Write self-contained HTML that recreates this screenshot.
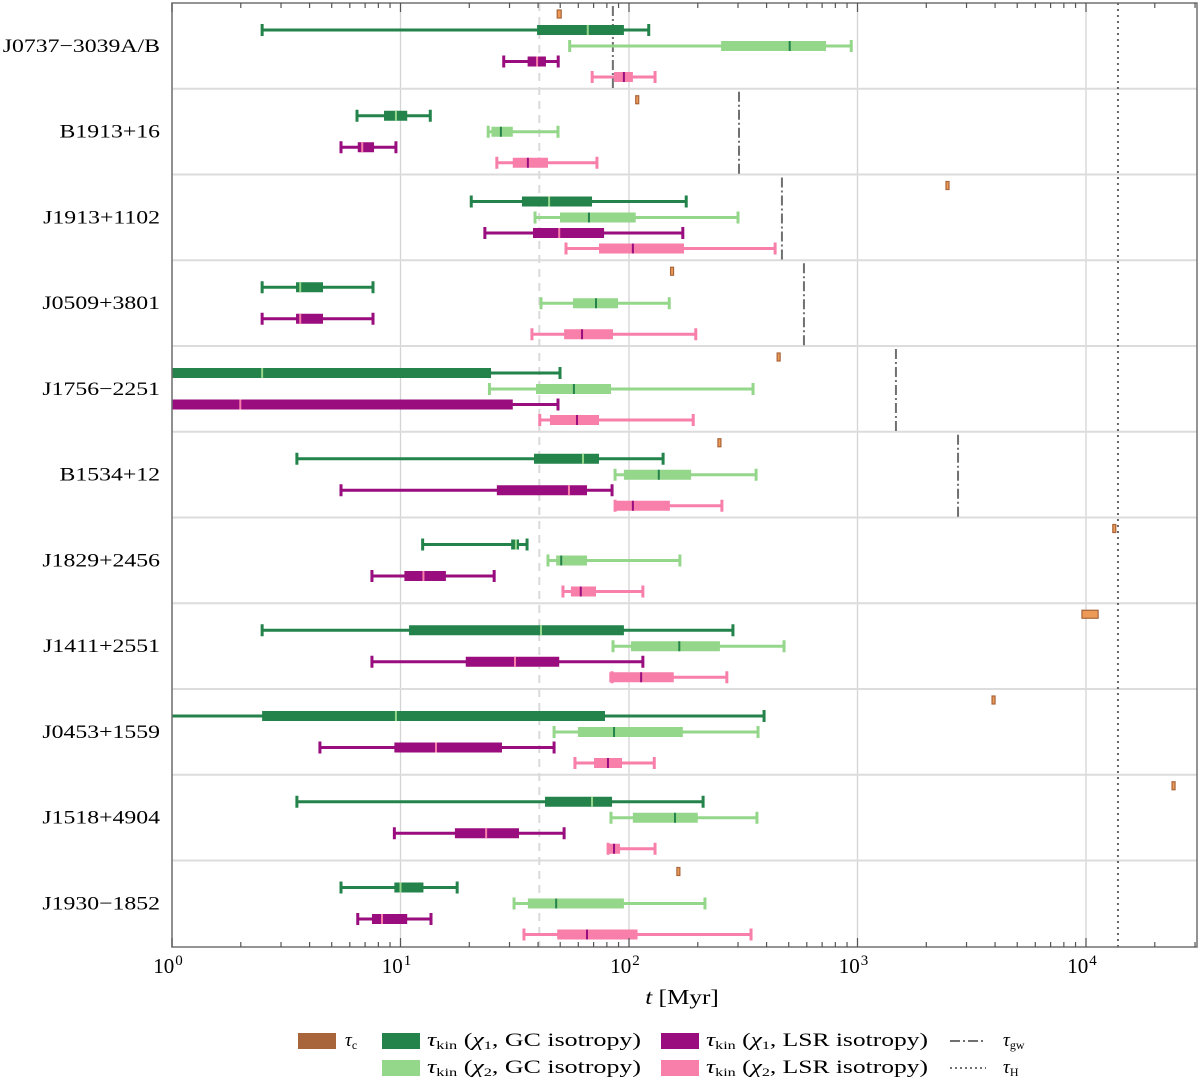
<!DOCTYPE html>
<html><head><meta charset="utf-8">
<style>
html,body{margin:0;padding:0;background:#fff;}
svg{display:block;font-family:"Liberation Serif",serif;}
</style></head>
<body>
<svg id="chart" width="1200" height="1081" viewBox="0 0 1200 1081" xmlns="http://www.w3.org/2000/svg">
  <defs><clipPath id="plotclip"><rect x="172" y="3" width="1025" height="944"/></clipPath></defs>
  <g id="grid"></g>
  <g id="marks" clip-path="url(#plotclip)"></g>
  <rect x="172" y="3" width="1025" height="944" fill="none" stroke="#707070" stroke-width="1.5"/>
  <g id="axes"></g>
  <text id="xtitle" x="682" y="1004" font-size="21" text-anchor="middle"><tspan font-style="italic">t</tspan>  [Myr]</text>
  <g id="legend" font-size="19"></g>
</svg>
<script>
const names = ["J0737\u22123039A/B","B1913+16","J1913+1102","J0509+3801","J1756\u22122251","B1534+12","J1829+2456","J1411+2551","J0453+1559","J1518+4904","J1930\u22121852"];
const tauC = [49.4,108,2465,154,449,248,13270,10500,3917,24040,164];
const tauCLo = [48.5,107,2440,152,445,245,13100,9600,3880,23800,162];
const tauCHi = [50.5,109,2490,156,453,251,13450,11300,3950,24300,166];
const tauGW = [85,303,467,583,1473,2754,null,null,null,null,null];
const tauH = 13800;
const refLine = 40.5;
// [lo, q1, median, q3, hi]
const gc1 = [[2.48,39.6,66,95,122],[6.45,8.47,9.55,10.7,13.5],[20.4,34,44.7,68.9,178],[2.48,3.49,3.64,4.58,7.58],[0.3,0.5,2.48,24.9,49.9],[3.52,38.4,62.9,73.9,141],[12.5,30.5,32,33,35.8],[2.48,10.9,41.2,95,285],[0.7,2.48,9.55,78.5,390],[3.52,42.9,68.9,84.3,211],[5.49,9.4,10,12.6,17.7]];
const gc2 = [[55,253,505,728,939],[24.2,25,27.5,31,48.9],[38.8,49.9,66.8,107,300],[41.2,56.9,71.7,89.5,150],[24.5,39.2,57.4,83.4,349],[86.9,95,135,187,360],[44.2,48,50.5,65.5,167],[85.1,102,166,250,477],[47,59.8,86,172,367],[83.4,104,159,200,363],[31.4,36.1,48,95,215]];
const lsr1 = [[28.3,36,39.6,43.3,49],[5.49,6.5,6.8,7.66,9.55],[23.4,38,49.5,77.8,172],[2.48,3.49,3.64,4.58,7.58],[0.3,0.5,1.99,31,48.9],[5.49,26.4,54.6,65.5,84.3],[7.5,10.4,12.6,15.8,25.7],[7.5,19.3,31.7,49.5,115],[4.44,9.4,14.3,27.8,47],[9.4,17.3,23.7,33,52],[6.5,7.5,8.3,10.7,13.6]];
const lsr2 = [[69,86,95,104,130],[26.4,31,36.1,44.2,72.4],[53,73.9,104,174,436],[37.6,52,62.3,85.1,196],[40.7,45.1,59.2,73.9,191],[86.9,86.9,104,151,255],[51.4,55.7,61.5,71.7,115],[84.3,82,113,157,268],[58,70.3,80.9,93.2,129],[81,82,86,91.4,130],[34.7,48.5,65.5,109,342]];
const xTicks = [1,10,100,1000,10000];
const xTickExp = ["0","1","2","3","4"];

const NS="http://www.w3.org/2000/svg";
const X0=172, X1=1197, DEC=228.5, Y0=3, ROWH=85.75;
function xs(v){return X0+DEC*Math.log10(v);}
function rowTop(i){return Y0+i*ROWH;}
function mk(tag,attrs,parent){const e=document.createElementNS(NS,tag);for(const k in attrs)e.setAttribute(k,attrs[k]);parent.appendChild(e);return e;}
function stretch(t,f){const l=t.getComputedTextLength();t.setAttribute('textLength',(l*f).toFixed(1));t.setAttribute('lengthAdjust','spacingAndGlyphs');}
const grid=document.getElementById('grid'), marks=document.getElementById('marks'), axes=document.getElementById('axes'), legend=document.getElementById('legend');

xTicks.forEach((t,i)=>{
  const l=mk('line',{x1:xs(t),x2:xs(t),y1:Y0,y2:947,stroke:'#d4d4d4','stroke-width':1.3},grid);
  
  
});
for(let i=1;i<names.length;i++){
  const l=mk('line',{x1:X0,x2:X1,y1:rowTop(i),y2:rowTop(i),stroke:'#dcdcdc','stroke-width':2},grid);
  
  
}
const rl=mk('line',{x1:xs(refLine),x2:xs(refLine),y1:Y0,y2:947,stroke:'#dadada','stroke-width':2,'stroke-dasharray':'8,6'},marks);


const th=mk('line',{x1:xs(tauH),x2:xs(tauH),y1:Y0,y2:947,stroke:'#666','stroke-width':2,'stroke-dasharray':'2,4'},marks);



function boxplot(d,yc,col,medCol,name){
  const g=mk('g',{},marks);
  
  
  const [lo,q1,md,q3,hi]=d;
  mk('line',{x1:xs(lo),x2:xs(hi),y1:yc,y2:yc,stroke:col,'stroke-width':3},g);
  mk('line',{x1:xs(lo),x2:xs(lo),y1:yc-6,y2:yc+6,stroke:col,'stroke-width':3},g);
  mk('line',{x1:xs(hi),x2:xs(hi),y1:yc-6,y2:yc+6,stroke:col,'stroke-width':3},g);
  mk('rect',{x:xs(q1),y:yc-5,width:Math.max(xs(q3)-xs(q1),1),height:10,fill:col},g);
  mk('line',{x1:xs(md),x2:xs(md),y1:yc-5,y2:yc+5,stroke:medCol,'stroke-width':2},g);
}
const DG='#23834a', LG='#94d68a', PU='#990d7e', PK='#f77faa', BR='#a8643a';
names.forEach((n,i)=>{
  const t=rowTop(i);
  const lab=mk('text',{x:160,y:t+ROWH/2+6,'text-anchor':'end','font-size':19},axes);
  lab.textContent=n;
  
  
  stretch(lab,1.25);
  const c=mk('rect',{x:xs(tauCLo[i]),y:t+7,width:Math.max(xs(tauCHi[i])-xs(tauCLo[i]),3),height:8,fill:'#ec9a55',stroke:BR,'stroke-width':1.2},marks);
  
  
  if(tauGW[i]!==null){
    const gw=mk('line',{x1:xs(tauGW[i]),x2:xs(tauGW[i]),y1:t+3,y2:t+ROWH,stroke:'#707070','stroke-width':2,'stroke-dasharray':'10,3,2,3'},marks);
    
    
  }
  boxplot(gc1[i],t+27,DG,LG,'gc-chi1-bar');
  boxplot(gc2[i],t+43,LG,DG,'gc-chi2-bar');
  boxplot(lsr1[i],t+58.5,PU,PK,'lsr-chi1-bar');
  boxplot(lsr2[i],t+74,PK,PU,'lsr-chi2-bar');
});
for(let e=0;e<5;e++){
  for(let m=1;m<10;m++){
    const v=Math.pow(10,e)*m; const x=xs(v); if(x>X1) break;
    const len=m===1?9:5;
    mk('line',{x1:x,x2:x,y1:947,y2:947-len,stroke:'#555','stroke-width':1.2},axes);
    mk('line',{x1:x,x2:x,y1:3,y2:3+len,stroke:'#555','stroke-width':1.2},axes);
  }
}
xTicks.forEach((t,i)=>{
  const tx=mk('text',{x:xs(t)-4,y:973,'text-anchor':'middle','font-size':21},axes);
  tx.textContent='10';
  
  
  const sp=mk('tspan',{dx:1,dy:-8,'font-size':15},tx);
  sp.textContent=xTickExp[i];
});
stretch(document.getElementById('xtitle'),1.2);
function legText(x,y,parts,w){
  const t=mk('text',{x:x,y:y},legend);
  
  
  parts.forEach(p=>{const s=mk('tspan',p[1]||{},t);s.textContent=p[0];});
  if(w){t.setAttribute('textLength',w);t.setAttribute('lengthAdjust','spacingAndGlyphs');}
  return t;
}
function sw(x,y,col,name){
  const r=mk('rect',{x:x,y:y-8,width:38,height:16,fill:col},legend);
  
  
}
const ly1=1041, ly2=1068;
sw(298,ly1,BR,'legend-swatch-tau-c');
legText(345,ly1+5,[['\u03c4',{'font-style':'italic'}],['c',{'font-size':12,dy:3}]]);
sw(382,ly1,DG,'legend-swatch-gc-chi1');
legText(427,ly1+5,[['\u03c4',{'font-style':'italic'}],['kin',{'font-size':12,dy:3}],[' (',{dy:-3}],['\u03c7',{'font-style':'italic'}],['1',{'font-size':12,dy:3}],[', GC isotropy)',{dy:-3}]],214);
sw(382,ly2,LG,'legend-swatch-gc-chi2');
legText(427,ly2+5,[['\u03c4',{'font-style':'italic'}],['kin',{'font-size':12,dy:3}],[' (',{dy:-3}],['\u03c7',{'font-style':'italic'}],['2',{'font-size':12,dy:3}],[', GC isotropy)',{dy:-3}]],214);
sw(661,ly1,PU,'legend-swatch-lsr-chi1');
legText(706,ly1+5,[['\u03c4',{'font-style':'italic'}],['kin',{'font-size':12,dy:3}],[' (',{dy:-3}],['\u03c7',{'font-style':'italic'}],['1',{'font-size':12,dy:3}],[', LSR isotropy)',{dy:-3}]],222);
sw(661,ly2,PK,'legend-swatch-lsr-chi2');
legText(706,ly2+5,[['\u03c4',{'font-style':'italic'}],['kin',{'font-size':12,dy:3}],[' (',{dy:-3}],['\u03c7',{'font-style':'italic'}],['2',{'font-size':12,dy:3}],[', LSR isotropy)',{dy:-3}]],222);
const lg1=mk('line',{x1:950,x2:986,y1:ly1,y2:ly1,stroke:'#707070','stroke-width':2,'stroke-dasharray':'10,3,2,3'},legend);


legText(1003,ly1+5,[['\u03c4',{'font-style':'italic'}],['gw',{'font-size':12,dy:3}]]);
const lg2=mk('line',{x1:950,x2:986,y1:ly2,y2:ly2,stroke:'#707070','stroke-width':2,'stroke-dasharray':'2,3'},legend);


legText(1003,ly2+5,[['\u03c4',{'font-style':'italic'}],['H',{'font-size':12,dy:3}]]);
</script>
</body></html>
